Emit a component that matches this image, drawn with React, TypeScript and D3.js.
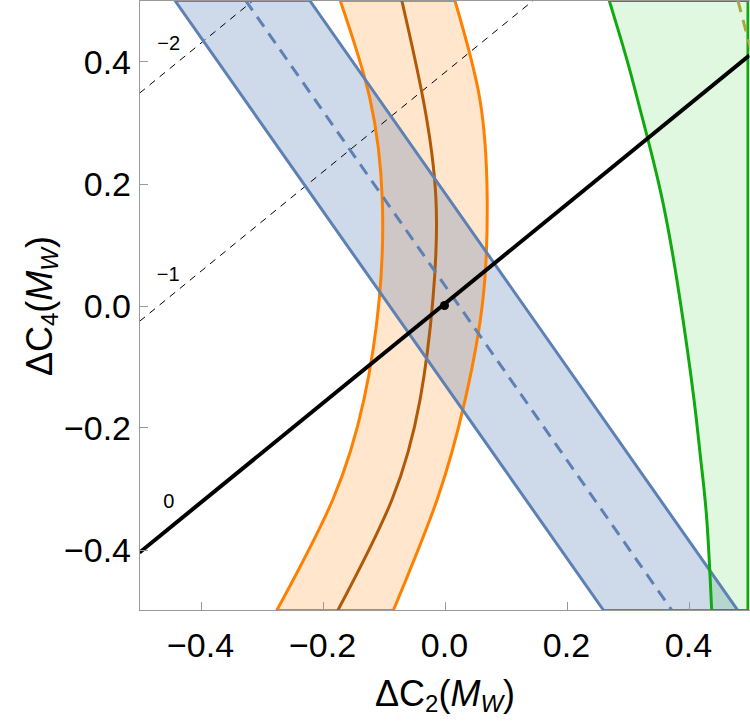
import React from 'react';
import * as d3 from 'd3';

const W = 750;
const H = 723;

// axis ticks
const xTicks = [-0.4, -0.2, 0.0, 0.2, 0.4];
const yTicks = [-0.4, -0.2, 0.0, 0.2, 0.4];

// blue band (straight), edges + dashed centre, given at c4 = top / bottom
const blueC4 = [0.5, -0.5];
const blueLeft = [-0.442, 0.261];
const blueMid = [-0.326, 0.373];
const blueRight = [-0.221, 0.481];

// orange band (curved)
const orangeC4 = [0.5, 0.338, 0.174, 0.01, -0.154, -0.318, -0.5];
const orangeLeft = [-0.171, -0.122, -0.102, -0.107, -0.132, -0.183, -0.275];
const orangeMid = [-0.07, -0.035, -0.014, -0.019, -0.04, -0.086, -0.175];
const orangeRight = [0.017, 0.058, 0.07, 0.063, 0.034, -0.012, -0.084];

// green region, left boundary; right side runs off the plot
const greenC4 = [0.5, 0.403, 0.305, 0.174, 0.01, -0.154, -0.252, -0.351, -0.5];
const greenLeft = [0.27, 0.299, 0.325, 0.357, 0.386, 0.409, 0.42, 0.43, 0.438];
const greenMidC2 = [0.481, 0.51];
const greenMidC4 = [0.5, 0.39];

// contour lines of the black family
const contourC2 = [-0.5, 0.5];
const contourLabels = ['0', '\u22121', '\u22122'];
const contourC4 = [
  [-0.405, 0.41],
  [-0.026, 0.789],
  [0.348, 1.163],
];
const labelC2 = [-0.452, -0.453, -0.452];
const labelC4 = [-0.32, 0.052, 0.431];

const x = d3.scaleLinear().domain([-0.5, 0.5]).range([139.5, 749.5]);
const y = d3.scaleLinear().domain([-0.5, 0.5]).range([610.5, 0.5]);

const line = d3.line<[number, number]>().x(d => x(d[0])).y(d => y(d[1]));
const curve = d3.line<[number, number]>().x(d => x(d[0])).y(d => y(d[1])).curve(d3.curveNatural);

function zipPts(xs: number[], ys: number[]): [number, number][] {
  return xs.map((v, i) => [v, ys[i]] as [number, number]);
}

function bandPath(left: number[], right: number[], c4: number[], smooth: boolean) {
  const gen = smooth ? curve : line;
  const l = gen(zipPts(left, c4)) as string;
  const r = gen(zipPts(right.slice().reverse(), c4.slice().reverse())) as string;
  return l + 'L' + r.slice(1) + 'Z';
}

const font = '"Liberation Sans", Arial, Helvetica, sans-serif';

export default function App() {
  const bluePath = bandPath(blueLeft, blueRight, blueC4, false);
  const orangePath = bandPath(orangeLeft, orangeRight, orangeC4, true);
  const greenEdge = greenLeft.map(() => 0.4975);
  const greenPath = bandPath(greenLeft, greenEdge, greenC4, true);

  return (
    <svg width={W} height={H} style={{ position: 'absolute', left: 0, top: 0, background: '#fff' }} fontFamily={font}>
      <defs>
        <clipPath id="plotArea">
          <rect x={139.5} y={0.5} width={610} height={610} />
        </clipPath>
      </defs>

      <g clipPath="url(#plotArea)">
        {/* fills */}
        <path d={orangePath} fill="rgba(255,128,0,0.2)" stroke="none" />
        <path d={bluePath} fill="rgba(94,129,181,0.3)" stroke="none" />
        <path d={greenPath} fill="rgba(0,200,0,0.12)" stroke="none" />

        {/* dashed contours */}
        {contourC4.slice(1).map((c, i) => (
          <path key={i} d={line(zipPts(contourC2, c)) as string} fill="none" stroke="#000" strokeWidth={1} strokeDasharray="7,6" />
        ))}

        {/* edges */}
        <path d={orangePath} fill="none" stroke="#FF8000" strokeWidth={3} />
        <path d={curve(zipPts(orangeMid, orangeC4)) as string} fill="none" stroke="#B05A08" strokeWidth={3} />
        <path d={bluePath} fill="none" stroke="#5E81B5" strokeWidth={3} />
        <path d={line(zipPts(blueMid, blueC4)) as string} fill="none" stroke="#5E81B5" strokeWidth={3} strokeDasharray="12,8" />
        <path d={greenPath} fill="none" stroke="#10AA10" strokeWidth={3} />
        <path d={line(zipPts(greenMidC2, greenMidC4)) as string} fill="none" stroke="#A8A840" strokeWidth={3} strokeDasharray="12,8" />

        {/* solid contour */}
        <path d={line(zipPts(contourC2, contourC4[0])) as string} fill="none" stroke="#000" strokeWidth={4} />
        <circle cx={x(0)} cy={y(0)} r={4.5} fill="#000" />
      </g>

      {/* contour labels */}
      {contourLabels.map((t, i) => (
        <text key={t} x={x(labelC2[i])} y={y(labelC4[i])} dy="0.36em" textAnchor="middle" fontSize={20} fill="#000">{t}</text>
      ))}

      {/* axes */}
      <line x1={139.5} x2={139.5} y1={0} y2={611} stroke="#999" strokeWidth={1} />
      <line x1={139} x2={750} y1={610.5} y2={610.5} stroke="#999" strokeWidth={1} />
      <line x1={139} x2={750} y1={0.5} y2={0.5} stroke="#999" strokeWidth={1} />
      {xTicks.map(t => (
        <g key={'x' + t}>
          <line x1={Math.round(x(t)) + 0.5} x2={Math.round(x(t)) + 0.5} y1={610} y2={602} stroke="#999" />
          <text x={x(t)} y={657} textAnchor="middle" fontSize={34} fill="#000">{d3.format('.1f')(t).replace('-', '\u2212')}</text>
        </g>
      ))}
      {yTicks.map(t => (
        <g key={'y' + t}>
          <line x1={140} x2={148} y1={Math.round(y(t)) + 0.5} y2={Math.round(y(t)) + 0.5} stroke="#999" />
          <text x={131} y={y(t)} dy="0.36em" textAnchor="end" fontSize={34} fill="#000">{d3.format('.1f')(t).replace('-', '\u2212')}</text>
        </g>
      ))}

      {/* axis titles */}
      <text x={445} y={706} textAnchor="middle" fontSize={36} fill="#000">
        {'\u0394C'}
        <tspan fontSize={24} dy={6}>2</tspan>
        <tspan dy={-6}>(</tspan>
        <tspan fontStyle="italic">M</tspan>
        <tspan fontSize={24} fontStyle="italic" dy={6}>W</tspan>
        <tspan dy={-6}>)</tspan>
      </text>
      <text transform={`translate(52,306) rotate(-90)`} textAnchor="middle" fontSize={36} fill="#000">
        {'\u0394C'}
        <tspan fontSize={24} dy={6}>4</tspan>
        <tspan dy={-6}>(</tspan>
        <tspan fontStyle="italic">M</tspan>
        <tspan fontSize={24} fontStyle="italic" dy={6}>W</tspan>
        <tspan dy={-6}>)</tspan>
      </text>
    </svg>
  );
}
